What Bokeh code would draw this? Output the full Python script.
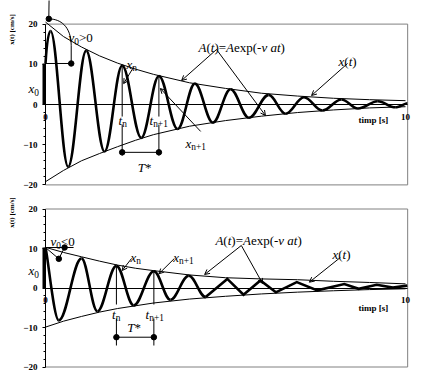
import numpy as np
from bokeh.plotting import figure
from bokeh.layouts import column
from bokeh.models import Range1d, FixedTicker, Arrow, OpenHead
from bokeh.core.properties import value
from bokeh.embed import file_html
from bokeh.resources import INLINE

# ---------------- data ----------------
y_ticks = [-20, -10, 0, 10, 20]
y_minor = [-18, -16, -14, -12, -8, -6, -4, -2, 2, 4, 6, 8, 12, 14, 16, 18]
x_ticks = [0, 10]

env_t = [0, 0.5, 1, 1.5, 2, 2.5, 3, 4, 5, 6, 7, 8, 9, 10]

# top panel (v0 > 0)
top_x0 = 10.2
top_env_upper = [20.5, 16.9, 14.3, 12.1, 10.3, 8.8, 7.5, 5.4, 4.0, 2.8, 2.1, 1.55, 1.2, 0.95]
top_env_lower = [-19.2, -16.4, -14.0, -12.2, -10.5, -8.9, -7.5, -5.4, -4.0, -2.9, -2.0, -1.35, -0.85, -0.55]
top_ext_t = [0.14, 0.63, 1.13, 1.64, 2.13, 2.66, 3.15, 3.67, 4.15, 4.65,
             5.14, 5.65, 6.2, 6.67, 7.18, 7.69, 8.22, 8.68, 9.23, 9.72]
top_ext_x = [18.3, -15.5, 13.4, -11.7, 9.7, -8.3, 7.1, -6.1, 5.2, -4.5,
             3.8, -3.3, 2.4, -2.3, 1.8, -1.5, 1.25, -1.0, 0.8, -0.7]
top_end = (10.05, 0.3)

# bottom panel (v0 < 0)
bot_x0 = 10.25
bot_env_upper = [10.3, 9.0, 7.9, 6.8, 5.8, 5.0, 4.4, 3.3, 2.6, 2.3, 2.1, 1.7, 1.4, 1.05]
bot_env_lower = [-9.9, -8.4, -7.2, -6.1, -5.2, -4.5, -3.8, -2.8, -2.1, -1.5, -1.05, -0.7, -0.4, -0.2]
bot_ext_t = [0.37, 1.0, 1.44, 1.97, 2.45, 3.01, 3.47, 3.98, 4.45, 5.05,
             5.5, 5.97, 6.4, 6.98, 7.55, 8.3, 8.7, 9.2, 9.65]
bot_ext_x = [-8.2, 7.5, -5.9, 5.6, -4.4, 4.25, -3.0, 3.1, -2.3, 2.3,
             -1.7, 1.9, -1.1, 1.5, -0.6, 1.0, -0.2, 0.8, 0.1]
bot_end = (10.05, 0.6)

# ---------------- helpers ----------------
W = 415
X_LO = -45 / 36.0
X_HI = X_LO + W / 36.0
T_RIGHT = 10.06

REG = {'0': 500, '1': 500, '>': 564, '<': 564, '(': 333, ')': 333, '=': 564, 'e': 444,
       'x': 500, 'p': 500, '-': 333, ' ': 250, '+': 564, 'n': 500, '*': 500, 'a': 444,
       't': 278, 'v': 500, 'A': 722}
ITA = {'A': 611, 't': 278, 'v': 444, 'a': 500, 'x': 444, 'T': 556, 'n': 500, '(': 333, ')': 333}
FONT = "Liberation Serif"


def tw(s, italic, size):
    tbl = ITA if italic else REG
    return sum(tbl.get(c, 500) for c in s) * size / 1000.0


def rich(p, x, y, parts, size=13):
    off = 0.0
    for s, it, sub in parts:
        sz = size * 0.72 if sub else size
        p.text(x=[x], y=[y], text=[s], x_offset=off, y_offset=(0.28 * size if sub else 0),
               text_font=value(FONT), text_font_style="italic" if it else "normal",
               text_font_size=f"{sz:.1f}px", text_align="left",
               text_baseline="alphabetic", text_color="black")
        off += tw(s, it, sz)


def make_fig(h, y_lo, y_hi):
    p = figure(width=W, height=h, x_range=Range1d(X_LO, X_HI), y_range=Range1d(y_lo, y_hi),
               output_backend="svg", toolbar_location=None,
               min_border_left=0, min_border_right=0, min_border_top=0, min_border_bottom=0)
    p.outline_line_color = None
    p.grid.visible = False
    p.background_fill_color = "white"
    p.border_fill_color = "white"
    # frame
    p.quad(left=[0], right=[T_RIGHT], bottom=[-20], top=[20], fill_color=None,
           line_color="#808080", line_width=1)
    # y axis
    ya = p.yaxis[0]
    ya.fixed_location = 0
    ya.ticker = FixedTicker(ticks=y_ticks, minor_ticks=y_minor)
    ya.bounds = (-20, 20)
    ya.axis_line_color = "black"
    ya.major_tick_in = 0
    ya.major_tick_out = 3
    ya.minor_tick_in = 0
    ya.minor_tick_out = 2
    ya.major_label_standoff = 5
    ya.major_label_text_font = FONT
    ya.major_label_text_font_style = "bold"
    ya.major_label_text_font_size = "9px"
    ya.major_label_text_color = "black"
    # x axis (zero line)
    xa = p.xaxis[0]
    xa.fixed_location = 0
    xa.ticker = FixedTicker(ticks=x_ticks)
    xa.bounds = (0, T_RIGHT)
    xa.axis_line_color = "black"
    xa.major_tick_in = 0
    xa.major_tick_out = 0
    xa.minor_tick_out = 0
    xa.minor_tick_in = 0
    xa.major_label_standoff = 9
    xa.major_label_text_font = FONT
    xa.major_label_text_font_style = "bold"
    xa.major_label_text_font_size = "9px"
    xa.major_label_text_color = "black"
    return p


def draw_curve(p, t0, x0, ts, xs, end, start_pull, straight_from=None, k=0.3634):
    bx0, by0, bx1, by1, c0x, c0y, c1x, c1y = [], [], [], [], [], [], [], []
    pts_t = [t0] + list(ts) + [end[0]]
    pts_x = [x0] + list(xs) + [end[1]]
    line_t, line_x = [], []
    n = len(pts_t)
    for i in range(n - 1):
        ta, xa_, tb, xb = pts_t[i], pts_x[i], pts_t[i + 1], pts_x[i + 1]
        h = tb - ta
        if straight_from is not None and ta >= straight_from:
            if not line_t:
                line_t.append(ta); line_x.append(xa_)
            line_t.append(tb); line_x.append(xb)
            continue
        if i == 0:
            p1 = (ta + start_pull[0] * h, xa_ + start_pull[1] * (xb - xa_))
            p2 = (tb - start_pull[2] * h, xb)
        elif i == n - 2:
            p1 = (ta + 0.36 * h, xa_)
            p2 = (tb - 0.2 * h, xb)
        else:
            p1 = (ta + k * h, xa_)
            p2 = (tb - k * h, xb)
        bx0.append(ta); by0.append(xa_); bx1.append(tb); by1.append(xb)
        c0x.append(p1[0]); c0y.append(p1[1]); c1x.append(p2[0]); c1y.append(p2[1])
    p.bezier(x0=bx0, y0=by0, x1=bx1, y1=by1, cx0=c0x, cy0=c0y, cx1=c1x, cy1=c1y,
             line_color="black", line_width=2.6)
    if line_t:
        p.line(line_t, line_x, line_color="black", line_width=2.6, line_join="miter")


def seg(p, x0, y0, x1, y1, w=1):
    p.segment(x0=[x0], y0=[y0], x1=[x1], y1=[y1], line_color="black", line_width=w)


def arrow(p, x0, y0, x1, y1):
    p.add_layout(Arrow(end=OpenHead(size=5, line_width=1, line_color="black"),
                       x_start=x0, y_start=y0, x_end=x1, y_end=y1,
                       line_color="black", line_width=1))


def dots(p, xs, ys):
    p.scatter(xs, ys, marker="circle", size=5.5, fill_color="black", line_color="black")


def common(p, env_u, env_l, x0):
    p.line(env_t, env_u, line_color="black", line_width=1)
    p.line(env_t, env_l, line_color="black", line_width=1)
    p.quad(left=[-3 / 36.0], right=[0], bottom=[0], top=[x0], fill_color="black", line_color=None)


# ---------------- top panel ----------------
p1 = make_fig(190, -86 / 4.02, 104 / 4.02)
common(p1, top_env_upper, top_env_lower, top_x0)
draw_curve(p1, 0.0, top_x0, top_ext_t, top_ext_x, top_end, start_pull=(0.3, 0.75, 0.35))

# initial velocity marker
seg(p1, 0.092, 21.3, 0.1, 26.5)
p1.bezier(x0=[0.092], y0=[21.3], x1=[0.714], y1=[14.7], cx0=[0.42], cy0=[21.3],
          cx1=[0.71], cy1=[19.4], line_color="black", line_width=1)
seg(p1, 0.714, 14.7, 0.714, top_x0)
seg(p1, 0, top_x0, 0.714, top_x0)
dots(p1, [0.092, 0.714], [21.3, top_x0])
rich(p1, 0.64, 16.67, [("v", True, False), ("0", False, True), (">0", False, False)])
rich(p1, -0.47, 3.98, [("x", True, False), ("0", False, True)])

# t_n, t_n+1, T*
tn, tn1 = top_ext_t[4], top_ext_t[6]
for tt, xx in ((tn, top_ext_x[4]), (tn1, top_ext_x[6])):
    seg(p1, tt, xx, tt, -3.0)
    seg(p1, tt, -5.0, tt, -12.7)
seg(p1, tn, -11.9, tn1, -11.9)
dots(p1, [tn, tn1], [-11.9, -11.9])
rich(p1, 2.03, -3.98, [("t", True, False), ("n", False, True)])
rich(p1, 2.89, -3.98, [("t", True, False), ("n+1", False, True)])
rich(p1, 2.56, -15.67, [("T", True, False), ("*", False, False)])

# x_n, x_n+1
rich(p1, 2.25, 9.95, [("x", True, False), ("n", False, True)])
arrow(p1, 2.44, 9.2, 2.17, 5.2)
rich(p1, 3.89, -9.7, [("x", True, False), ("n+1", False, True)])
arrow(p1, 4.31, -6.7, 3.19, 3.98)

# A(t) and x(t) labels
A_PARTS = [("A", True, False), ("(", False, False), ("t", True, False), (")=", False, False),
           ("A", True, False), ("exp(-", False, False), ("v", True, False), (" ", False, False),
           ("at", True, False), (")", False, False)]
X_PARTS = [("x", True, False), ("(", False, False), ("t", True, False), (")", False, False)]
rich(p1, 4.25, 14.18, A_PARTS)
arrow(p1, 4.75, 13.68, 3.78, 5.97)
arrow(p1, 4.75, 13.68, 6.11, -2.74)
rich(p1, 8.14, 10.7, X_PARTS)
arrow(p1, 8.39, 10.2, 7.39, 2.24)

p1.text(x=[9.11], y=[-3.98], text=["timp [s]"], text_font=value(FONT), text_font_style="bold",
        text_font_size="9px", text_align="center", text_baseline="alphabetic", text_color="black")
p1.text(x=[-0.917], y=[18.66], text=["x(t) [cm/s]"], angle=np.pi / 2, text_font=value(FONT),
        text_font_style="bold", text_font_size="7px", text_align="center",
        text_baseline="middle", text_color="black")

# ---------------- bottom panel ----------------
p2 = make_fig(188, -90.5 / 3.95, 97.5 / 3.95)
common(p2, bot_env_upper, bot_env_lower, bot_x0)
draw_curve(p2, 0.0, bot_x0, bot_ext_t, bot_ext_x, bot_end, start_pull=(0.2, 0.15, 0.36),
           straight_from=4.4)

seg(p2, 0, bot_x0, 0.78, bot_x0)
seg(p2, 0, bot_x0, 0.37, 7.39)
seg(p2, 0.37, 7.39, 0.53, bot_x0)
dots(p2, [0.53, 0.37], [bot_x0, 7.39])
rich(p2, 0.14, 11.77, [("v", True, False), ("0", False, True), ("<0", False, False)])
rich(p2, -0.47, 4.43, [("x", True, False), ("0", False, True)])

bn, bn1 = bot_ext_t[3], bot_ext_t[5]
for tt, xx in ((bn, bot_ext_x[3]), (bn1, bot_ext_x[5])):
    seg(p2, tt, xx, tt, -4.18)
    seg(p2, tt, -7.72, tt, -14.56)
seg(p2, bn, -12.46, bn1, -12.46)
dots(p2, [bn, bn1], [-12.46, -12.46])
rich(p2, 1.85, -6.71, [("t", True, False), ("n", False, True)])
rich(p2, 2.78, -6.71, [("t", True, False), ("n+1", False, True)])
rich(p2, 2.27, -10.0, [("T", True, False), ("*", False, False)])

rich(p2, 2.36, 7.72, [("x", True, False), ("n", False, True)])
arrow(p2, 2.39, 7.47, 2.13, 4.43)
rich(p2, 3.55, 7.72, [("x", True, False), ("n+1", False, True)])
arrow(p2, 3.58, 7.47, 3.15, 3.59)

rich(p2, 4.72, 12.03, A_PARTS)
arrow(p2, 5.44, 10.76, 4.42, 3.42)
arrow(p2, 5.44, 10.76, 6.03, 1.14)
rich(p2, 7.97, 8.48, X_PARTS)
arrow(p2, 8.19, 7.72, 7.33, 1.47)

p2.text(x=[9.11], y=[-4.94], text=["timp [s]"], text_font=value(FONT), text_font_style="bold",
        text_font_size="9px", text_align="center", text_baseline="alphabetic", text_color="black")
p2.text(x=[-0.917], y=[19.1], text=["x(t) [cm/s]"], angle=np.pi / 2, text_font=value(FONT),
        text_font_style="bold", text_font_size="7px", text_align="center",
        text_baseline="middle", text_color="black")

layout = column(p1, p2, spacing=0)
open("out.html", "w").write(file_html(layout, INLINE))
